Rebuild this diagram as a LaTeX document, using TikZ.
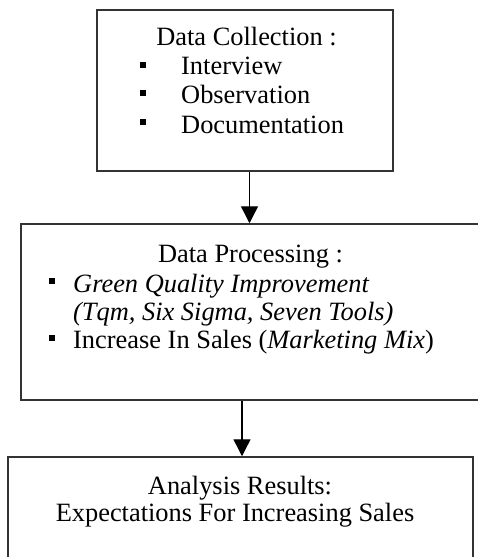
\documentclass[tikz,border=0pt]{standalone}
\usepackage{fontspec}
\setmainfont{Liberation Serif}
\usetikzlibrary{arrows.meta}
\begin{document}
\begin{tikzpicture}[x=1pt,y=-1pt,
  box/.style={draw=black!80,line width=1.5pt,rectangle,inner sep=0pt},
  txt/.style={anchor=base west,inner sep=0pt,font=\fontsize{26.4}{29}\selectfont},
  ctxt/.style={anchor=base,inner sep=0pt,font=\fontsize{26.4}{29}\selectfont},
  bulletsq/.style={fill=black,inner sep=0pt,minimum size=5.5pt,rectangle},
  arr/.style={line width=1.4pt,-{Triangle[width=17pt,length=17pt]}}]
\useasboundingbox (0,0) rectangle (478,557);
\begin{scope}
\clip (0,0) rectangle (478,557);
% boxes
\node[box,minimum width=296pt,minimum height=161pt] (box1) at (245,90.5) {};
\node[box,minimum width=479pt,minimum height=176pt] (box2) at (260.5,312) {};
\node[box,minimum width=465pt,minimum height=123pt] (box3) at (240.5,518.5) {};
\end{scope}
% first box: data collection
\node[ctxt] (t1) at (246.5,45) {Data Collection :};
\node[bulletsq] (b11) at (143,65) {};
\node[bulletsq] (b12) at (143,93) {};
\node[bulletsq] (b13) at (143,122) {};
\node[txt] (t11) at (181,74.5) {Interview};
\node[txt] (t12) at (181,103.5) {Observation};
\node[txt] (t13) at (181,133) {Documentation};
% second box: data processing
\node[ctxt] (t2) at (250.5,262) {Data Processing :};
\node[bulletsq] (b21) at (52,281) {};
\node[bulletsq] (b22) at (52,338) {};
\node[txt] (t21) at (73,292) {\itshape Green Quality Improvement};
\node[txt] (t22) at (73,320) {\itshape (Tqm, Six Sigma, Seven Tools)};
\node[txt] (t23) at (73,348) {Increase In Sales (\textit{Marketing Mix})};
% third box: results
\node[ctxt] (t3) at (240,494) {Analysis Results:};
\node[ctxt] (t31) at (235,521) {Expectations For Increasing Sales};
% connectors
\coordinate (c1) at (249.5,0);
\coordinate (c2) at (242,0);
\draw[arr] (box1.south -| c1) -- (box2.north -| c1);
\draw[arr] (box2.south -| c2) -- (box3.north -| c2);
\end{tikzpicture}
\end{document}
